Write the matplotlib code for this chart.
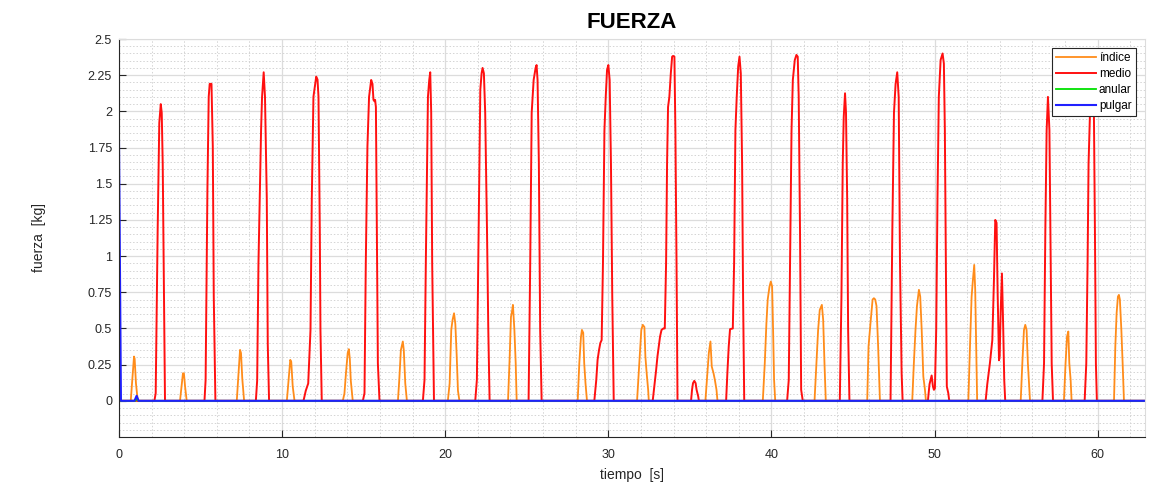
import matplotlib
matplotlib.use("Agg")
import matplotlib.pyplot as plt
from matplotlib import font_manager
from matplotlib.ticker import MultipleLocator

# ---- data: finger forces over time (piecewise samples) ----
t_indice = [0, 0.72, 0.84, 0.92, 0.96, 1.04, 1.15,
            3.74, 3.85, 3.92, 3.98, 4.05, 4.15,
            7.22, 7.33, 7.42, 7.48, 7.56, 7.67,
            10.29, 10.40, 10.50, 10.56, 10.65, 10.76,
            13.72, 13.82, 13.92, 14.02, 14.09, 14.15, 14.21, 14.33,
            17.10, 17.18, 17.28, 17.36, 17.40, 17.46, 17.55, 17.65,
            20.16, 20.27, 20.37, 20.45, 20.54, 20.62, 20.70, 20.78, 20.87,
            23.85, 23.95, 24.03, 24.09, 24.15, 24.24, 24.32, 24.38,
            28.12, 28.22, 28.32, 28.38, 28.46, 28.52, 28.60, 28.69,
            31.76, 31.90, 32.02, 32.11, 32.21, 32.27, 32.35, 32.44, 32.48,
            35.95, 36.06, 36.16, 36.26, 36.34, 36.45, 36.53, 36.63, 36.69,
            39.47, 39.59, 39.69, 39.77, 39.88, 39.96, 40.04, 40.10, 40.16, 40.23,
            42.64, 42.76, 42.86, 42.96, 43.09, 43.17, 43.25, 43.33,
            45.87, 45.95, 46.07, 46.20, 46.28, 46.36, 46.44, 46.54, 46.65,
            48.63, 48.73, 48.83, 48.92, 49.04, 49.12, 49.21, 49.31, 49.41, 49.47,
            52.07, 52.17, 52.27, 52.35, 52.43, 52.49, 52.55, 52.61,
            55.28, 55.38, 55.48, 55.56, 55.64, 55.72, 55.79, 55.85,
            57.93, 58.03, 58.12, 58.20, 58.26, 58.34, 58.40,
            61.00, 61.08, 61.16, 61.24, 61.30, 61.36, 61.45, 61.53, 61.61, 62.9]
f_indice = [0, 0, 0.18, 0.306, 0.29, 0.12, 0,
            0, 0.12, 0.19, 0.19, 0.10, 0,
            0, 0.20, 0.352, 0.33, 0.15, 0,
            0, 0.15, 0.283, 0.27, 0.10, 0,
            0, 0.05, 0.20, 0.33, 0.357, 0.29, 0.14, 0,
            0, 0.14, 0.35, 0.39, 0.41, 0.35, 0.12, 0,
            0, 0.12, 0.49, 0.56, 0.605, 0.53, 0.32, 0.07, 0,
            0, 0.30, 0.58, 0.615, 0.663, 0.49, 0.26, 0,
            0, 0.26, 0.44, 0.49, 0.47, 0.26, 0.12, 0,
            0, 0.26, 0.49, 0.525, 0.51, 0.306, 0.19, 0.076, 0,
            0, 0.168, 0.33, 0.41, 0.237, 0.19, 0.145, 0.076, 0,
            0, 0.26, 0.536, 0.70, 0.79, 0.824, 0.79, 0.49, 0.145, 0,
            0, 0.26, 0.49, 0.628, 0.663, 0.56, 0.26, 0,
            0, 0.375, 0.536, 0.70, 0.709, 0.70, 0.655, 0.375, 0,
            0, 0.26, 0.49, 0.655, 0.767, 0.72, 0.49, 0.168, 0.076, 0,
            0, 0.375, 0.72, 0.836, 0.939, 0.77, 0.375, 0,
            0, 0.26, 0.49, 0.525, 0.49, 0.26, 0.115, 0,
            0, 0.26, 0.444, 0.479, 0.26, 0.145, 0,
            0, 0.375, 0.605, 0.72, 0.732, 0.70, 0.49, 0.258, 0, 0]

t_medio = [0, 2.17, 2.25, 2.37, 2.47, 2.56, 2.62, 2.68, 2.76, 2.82,
           5.24, 5.31, 5.42, 5.50, 5.56, 5.67, 5.75, 5.81, 5.91,
           8.39, 8.47, 8.55, 8.71, 8.77, 8.87, 8.95, 9.06, 9.12, 9.20,
           11.31, 11.45, 11.60, 11.74, 11.82, 11.92, 12.09, 12.17, 12.23, 12.31, 12.35, 12.43,
           14.95, 15.05, 15.13, 15.23, 15.33, 15.46, 15.54, 15.60, 15.66, 15.70, 15.75, 15.81, 15.87, 15.97,
           18.63, 18.73, 18.81, 18.94, 19.02, 19.08, 19.14, 19.20, 19.31,
           21.84, 21.94, 22.05, 22.15, 22.23, 22.29, 22.37, 22.45, 22.56, 22.64, 22.72,
           25.11, 25.21, 25.30, 25.42, 25.54, 25.60, 25.66, 25.74, 25.82, 25.91,
           29.14, 29.26, 29.34, 29.43, 29.51, 29.59, 29.67, 29.76, 29.84, 29.92, 30.00, 30.08, 30.16, 30.24, 30.33,
           32.72, 32.82, 32.93, 33.01, 33.09, 33.17, 33.26, 33.38, 33.46, 33.54, 33.60, 33.66, 33.74, 33.83,
           33.91, 33.97, 34.05, 34.11, 34.18, 34.24,
           35.07, 35.13, 35.19, 35.27, 35.35, 35.41, 35.51, 35.55,
           37.22, 37.30, 37.38, 37.46, 37.63, 37.71, 37.79, 37.87, 37.96, 38.04, 38.12, 38.20, 38.26, 38.33,
           40.96, 41.06, 41.14, 41.23, 41.31, 41.43, 41.53, 41.61, 41.67, 41.75, 41.82, 41.92,
           44.19, 44.29, 44.37, 44.43, 44.51, 44.57, 44.64, 44.70, 44.78,
           47.30, 47.41, 47.51, 47.61, 47.71, 47.80, 47.88, 47.98, 48.04,
           49.59, 49.69, 49.82, 49.90, 49.96, 50.02, 50.10, 50.18, 50.26, 50.37, 50.49, 50.57, 50.63,
           50.69, 50.75, 50.84, 50.90,
           53.13, 53.23, 53.39, 53.54, 53.64, 53.72, 53.80, 53.87, 53.95, 53.99, 54.05, 54.13, 54.21, 54.27, 54.33,
           56.61, 56.71, 56.79, 56.87, 56.95, 57.04, 57.10, 57.18, 57.26,
           59.20, 59.30, 59.38, 59.44, 59.52, 59.65, 59.77, 59.83, 59.89, 59.95, 62.9]
f_medio = [0, 0, 0.053, 1.18, 1.92, 2.05, 1.99, 1.64, 0.72, 0,
           0, 0.145, 1.457, 2.10, 2.19, 2.19, 1.76, 0.72, 0,
           0, 0.14, 0.95, 1.87, 2.10, 2.27, 2.10, 1.40, 0.39, 0,
           0, 0.07, 0.12, 0.49, 1.40, 2.10, 2.24, 2.22, 2.10, 1.18, 0.49, 0,
           0, 0.053, 0.95, 1.756, 2.10, 2.217, 2.19, 2.08, 2.07, 2.08, 2.03, 1.18, 0.26, 0,
           0, 0.145, 0.95, 2.10, 2.217, 2.27, 1.99, 0.95, 0,
           0, 0.145, 1.18, 2.148, 2.263, 2.30, 2.263, 1.99, 1.18, 0.49, 0,
           0, 0.95, 1.99, 2.217, 2.30, 2.32, 2.217, 1.64, 0.49, 0,
           0, 0.145, 0.283, 0.352, 0.40, 0.42, 0.95, 1.87, 2.10, 2.286, 2.32, 2.217, 1.64, 0.72, 0,
           0, 0.10, 0.214, 0.306, 0.375, 0.444, 0.49, 0.50, 0.50, 0.95, 1.64, 2.03, 2.10, 2.263,
           2.378, 2.383, 2.378, 1.87, 0.95, 0,
           0, 0.076, 0.122, 0.138, 0.122, 0.076, 0.03, 0,
           0, 0.20, 0.375, 0.495, 0.50, 0.95, 1.87, 2.10, 2.31, 2.378, 2.263, 1.64, 0.72, 0,
           0, 0.145, 0.95, 1.87, 2.217, 2.355, 2.39, 2.378, 2.10, 1.18, 0.076, 0,
           0, 0.72, 1.64, 1.96, 2.125, 1.99, 1.41, 0.49, 0,
           0, 1.18, 1.99, 2.19, 2.27, 2.10, 0.95, 0.19, 0,
           0, 0.115, 0.175, 0.099, 0.076, 0.087, 0.49, 1.41, 2.10, 2.355, 2.40, 2.33, 1.87,
           0.95, 0.099, 0.053, 0,
           0, 0.115, 0.258, 0.42, 0.836, 1.25, 1.23, 0.72, 0.28, 0.306, 0.61, 0.88, 0.49, 0.145, 0,
           0, 0.258, 1.18, 1.87, 2.10, 1.87, 1.18, 0.258, 0,
           0, 0.258, 0.95, 1.64, 1.96, 2.35, 1.96, 1.18, 0.258, 0, 0]

t_anular = [0, 1.00, 1.10, 1.20, 62.9]
f_anular = [0, 0, 0.015, 0, 0]

t_pulgar = [0, 0.12, 0.95, 1.08, 1.20, 62.9]
f_pulgar = [1.80, 0, 0, 0.035, 0, 0]

y_ticks = [0, 0.25, 0.5, 0.75, 1, 1.25, 1.5, 1.75, 2, 2.25, 2.5]
y_tick_labels = ["0", "0.25", "0.5", "0.75", "1", "1.25", "1.5", "1.75", "2", "2.25", "2.5"]
x_ticks = [0, 10, 20, 30, 40, 50, 60]

# ---- fonts: prefer a narrow sans if one is installed ----
installed = {f.name for f in font_manager.fontManager.ttflist}
narrow_name = next((n for n in ("Liberation Sans Narrow", "Arial Narrow", "DejaVu Sans Condensed")
                    if n in installed), None)
if narrow_name:
    narrow = [narrow_name, "Liberation Sans", "DejaVu Sans"]
    tick_size, label_size, leg_size = 10, 11, 9.5
else:
    narrow = ["Liberation Sans", "DejaVu Sans"]
    tick_size, label_size, leg_size = 9, 10, 8.5

# ---- figure ----
W, H = 1150, 484
fig = plt.figure(figsize=(W / 100, H / 100), dpi=100)
fig.patch.set_facecolor("white")
ax = fig.add_axes([119 / W, (H - 437) / H, (1145 - 119) / W, (437 - 39) / H])

ax.plot(t_indice, f_indice, color="#FF8C1A", lw=1.3, label="índice")
ax.plot(t_medio, f_medio, color="#FF1010", lw=1.4, label="medio")
ax.plot(t_anular, f_anular, color="#00E000", lw=1.3, label="anular")
ax.plot(t_pulgar, f_pulgar, color="#2020FF", lw=1.5, label="pulgar")

ax.set_xlim(0, t_pulgar[-1])
ax.set_ylim(-0.25, 2.5)
ax.set_xticks(x_ticks)
ax.set_xticklabels([str(v) for v in x_ticks], family=narrow, fontsize=tick_size, color="#262626")
ax.set_yticks(y_ticks)
ax.set_yticklabels(y_tick_labels, family=narrow, fontsize=tick_size, color="#262626")
ax.xaxis.set_minor_locator(MultipleLocator(2))
ax.yaxis.set_minor_locator(MultipleLocator(0.05))

ax.grid(which="major", color="#dcdcdc", lw=0.9, ls="-")
ax.grid(which="minor", color="#d4d4d4", lw=0.7, ls=(0, (1.5, 2)))
ax.set_axisbelow(True)

ax.tick_params(which="major", direction="in", length=5, width=0.8, color="#262626",
               top=False, right=False)
ax.tick_params(which="minor", length=0)
ax.tick_params(axis="x", pad=9)
ax.tick_params(axis="y", pad=5)

for side in ("left", "bottom"):
    ax.spines[side].set_color("#262626")
    ax.spines[side].set_linewidth(0.8)
for side in ("top", "right"):
    ax.spines[side].set_color("#dcdcdc")
    ax.spines[side].set_linewidth(0.8)

ax.set_title("FUERZA", fontsize=16, fontweight="bold", family=["Liberation Sans", "DejaVu Sans"],
             color="#000000", pad=8)
ax.set_xlabel("tiempo  [s]", family=narrow, fontsize=label_size, color="#262626")
ax.set_ylabel("fuerza  [kg]", family=narrow, fontsize=label_size, color="#262626")
ax.xaxis.set_label_coords(0.5, -0.077)
ax.yaxis.set_label_coords(-0.071, 0.5)

leg = ax.legend(loc="upper right", bbox_to_anchor=(0.991, 0.977), borderaxespad=0,
                prop={"family": narrow, "size": leg_size}, frameon=True, fancybox=False,
                edgecolor="#262626", framealpha=1, handlelength=3.4, handletextpad=0.25,
                labelspacing=0.34, borderpad=0.35)
leg.get_frame().set_linewidth(0.8)

fig.savefig("out.png", dpi=100, facecolor="white")
